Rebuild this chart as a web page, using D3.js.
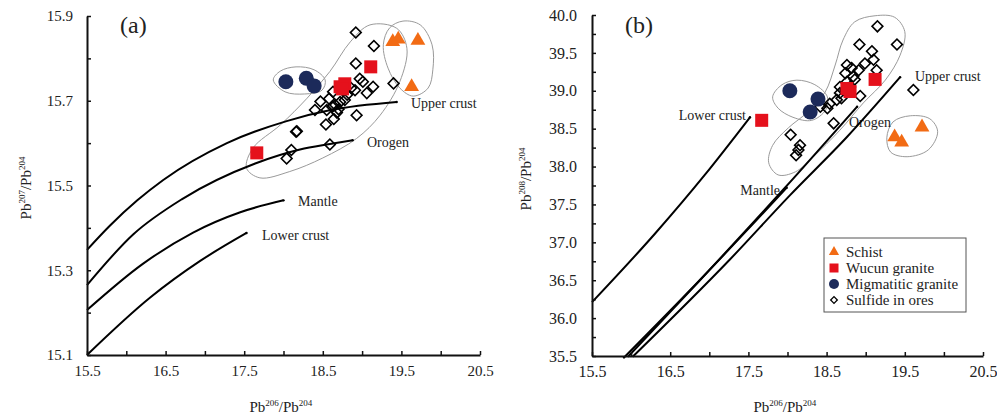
<!DOCTYPE html>
<html>
<head>
<meta charset="utf-8">
<script src="https://cdn.jsdelivr.net/npm/d3@7"></script>
<style>
  body { margin: 0; background: #fff; }
</style>
</head>
<body>
<div id="chart"></div>
<script>
// figure size
const width = 997
const height = 418

// ---------- data : panel (a) 206Pb/204Pb vs 207Pb/204Pb ----------
const sulfideA = [
  [18.92,15.861],[19.15,15.829],[18.92,15.788],[19.40,15.741],[19.01,15.745],
  [19.14,15.733],[19.06,15.718],[18.91,15.725],[18.63,15.721],[18.47,15.698],
  [18.40,15.678],[18.55,15.678],[18.66,15.690],[18.72,15.697],[18.78,15.702],
  [18.81,15.714],[18.93,15.666],[18.54,15.644],[18.64,15.657],[18.16,15.627],
  [18.17,15.628],[18.59,15.597],[18.10,15.584],[18.04,15.564],[18.70,15.680],
  [18.58,15.705],[18.86,15.730],[18.68,15.672],[18.97,15.752],[18.62,15.686]
]
const wucunA = [[17.66,15.577],[19.11,15.780],[18.72,15.733],[18.78,15.740],[18.75,15.728]]
const migmaA = [[18.03,15.745],[18.29,15.753],[18.39,15.735]]
const schistA = [[19.39,15.839],[19.46,15.845],[19.71,15.842],[19.63,15.733]]

// growth curves (a)
const upperCrustA = [[15.5,15.348],[15.79,15.405],[16.14,15.465],[16.47,15.513],[17.28,15.600],[18.04,15.652],[18.6,15.678],[19.44,15.697]]
const orogenA = [[15.5,15.265],[16.09,15.385],[16.71,15.468],[17.64,15.552],[18.21,15.585],[18.59,15.598],[18.88,15.607]]
const mantleA = [[15.5,15.206],[16.21,15.315],[16.85,15.389],[17.45,15.437],[18.0,15.465]]
const lowerCrustA = [[15.5,15.1],[16.3,15.235],[16.94,15.322],[17.53,15.388]]

// field outlines (a)
const fieldMigmaA = [[17.87,15.749],[17.96,15.770],[18.16,15.780],[18.39,15.773],[18.53,15.749],[18.49,15.725],[18.27,15.716],[18.02,15.721]]
const fieldSulfideA = [[19.10,15.879],[19.44,15.871],[19.57,15.824],[19.48,15.745],[19.23,15.666],[18.93,15.611],[18.50,15.565],[18.08,15.533],[17.70,15.518],[17.53,15.541],[17.61,15.588],[17.96,15.643],[18.30,15.706],[18.59,15.769],[18.85,15.839]]
const fieldSchistA = [[19.27,15.832],[19.35,15.872],[19.52,15.888],[19.74,15.879],[19.89,15.832],[19.90,15.773],[19.84,15.730],[19.65,15.711],[19.48,15.730],[19.33,15.777]]

// ---------- data : panel (b) 206Pb/204Pb vs 208Pb/204Pb ----------
const sulfideB = [
  [19.15,39.85],[19.40,39.61],[18.92,39.61],[19.08,39.52],[19.10,39.41],
  [19.14,39.27],[18.76,39.34],[18.99,39.36],[18.91,39.27],[18.74,39.23],
  [18.84,39.19],[18.76,39.12],[18.80,39.05],[18.74,39.01],[18.67,38.97],
  [19.61,39.01],[18.93,38.93],[18.63,38.88],[18.54,38.83],[18.51,38.77],
  [18.42,38.79],[18.59,38.57],[18.04,38.42],[18.16,38.28],[18.14,38.22],
  [18.11,38.15],[18.67,39.05],[18.69,38.90],[18.86,39.15],[18.82,39.30]
]
const wucunB = [[17.67,38.61],[19.12,39.15],[18.80,38.99],[18.76,39.03]]
const migmaB = [[18.03,39.00],[18.39,38.89],[18.29,38.72]]
const schistB = [[19.37,38.39],[19.46,38.32],[19.72,38.52]]

// growth curves (b)
const lowerCrustB = [[15.5,36.21],[16.31,37.12],[16.95,37.90],[17.52,38.65]]
const mantleB = [[15.90,35.47],[16.84,36.46],[17.61,37.30],[17.99,37.72]]
const orogenB = [[15.96,35.49],[16.88,36.50],[17.95,37.70],[18.89,38.79]]
const upperCrustB = [[16.02,35.49],[17.26,36.77],[18.03,37.62],[18.76,38.39],[19.44,39.18]]

// field outlines (b)
const fieldMigmaB = [[17.81,38.92],[17.93,39.08],[18.12,39.14],[18.35,39.08],[18.51,38.92],[18.49,38.75],[18.31,38.61],[18.07,38.65],[17.88,38.77]]
const fieldSulfideB = [[18.86,39.91],[19.12,39.99],[19.37,39.97],[19.50,39.78],[19.44,39.47],[19.25,39.14],[18.97,38.84],[18.67,38.48],[18.33,38.13],[18.10,37.93],[17.88,37.89],[17.76,38.05],[17.81,38.28],[18.01,38.51],[18.26,38.72],[18.48,38.98],[18.61,39.34],[18.71,39.67]]
const fieldSchistB = [[19.27,38.38],[19.35,38.59],[19.57,38.67],[19.82,38.63],[19.92,38.46],[19.80,38.22],[19.53,38.13],[19.32,38.19]]

// ticks
const xTicks = [15.5,16,16.5,17,17.5,18,18.5,19,19.5,20,20.5]
const xLabels = [15.5,16.5,17.5,18.5,19.5,20.5]
const yTicksA = [15.1,15.2,15.3,15.4,15.5,15.6,15.7,15.8,15.9]
const yLabelsA = [15.1,15.3,15.5,15.7,15.9]
const yTicksB = [35.5,35.75,36,36.25,36.5,36.75,37,37.25,37.5,37.75,38,38.25,38.5,38.75,39,39.25,39.5,39.75,40]
const yLabelsB = [35.5,36,36.5,37,37.5,38,38.5,39,39.5,40]

const legendItems = ["Schist","Wucun granite","Migmatitic granite","Sulfide in ores"]

// colours
const cSchist = "#f26b14"
const cWucun = "#e5111c"
const cMigma = "#1c2a5a"
const serif = "Liberation Serif, DejaVu Serif, serif"

const svg = d3.select("#chart")
  .append("svg")
    .attr("width", width)
    .attr("height", height)
    .attr("font-family", serif)

function panel(opt) {
  const x = d3.scaleLinear().domain([15.5, 20.5]).range(opt.xr)
  const y = d3.scaleLinear().domain(opt.yd).range(opt.yr)
  const g = svg.append("g")

  const line = d3.line().x(d => x(d[0])).y(d => y(d[1])).curve(d3.curveMonotoneX)
  const closed = d3.line().x(d => x(d[0])).y(d => y(d[1])).curve(d3.curveCatmullRomClosed)

  // field outlines
  opt.fields.forEach(f => {
    g.append("path").attr("d", closed(f))
      .attr("fill", "none").attr("stroke", "#9a9a9a").attr("stroke-width", 1)
  })

  // growth curves
  opt.curves.forEach(c => {
    g.append("path").attr("d", line(c.pts))
      .attr("fill", "none").attr("stroke", "#000").attr("stroke-width", 2)
    g.append("circle").attr("cx", x(c.pts[c.pts.length-1][0])).attr("cy", y(c.pts[c.pts.length-1][1]))
      .attr("r", 1.2).attr("fill", "#000")
    g.append("text").attr("x", c.lx).attr("y", c.ly)
      .attr("text-anchor", c.anchor || "start")
      .attr("font-size", 14).attr("fill", "#222").text(c.name)
  })

  // axes
  const xAxis = d3.axisBottom(x).tickValues(xTicks)
    .tickSizeInner(-4).tickSizeOuter(0).tickPadding(10)
    .tickFormat(d => xLabels.includes(d) ? d3.format(".1f")(d) : "")
  const yAxis = d3.axisLeft(y).tickValues(opt.yTicks)
    .tickSizeInner(-4).tickSizeOuter(0).tickPadding(opt.yPad)
    .tickFormat(d => opt.yLabels.includes(d) ? d3.format(".1f")(d) : "")

  const gx = g.append("g").attr("transform", `translate(0,${opt.yr[0]})`).call(xAxis)
  const gy = g.append("g").attr("transform", `translate(${opt.xr[0]},0)`).call(yAxis)
  ;[gx, gy].forEach(a => {
    a.select(".domain").attr("stroke", "#111").attr("stroke-width", 2)
    a.selectAll(".tick line").attr("stroke", "#111").attr("stroke-width", 1.5)
    a.selectAll(".tick text").attr("font-family", serif)
      .attr("font-size", opt.fs).attr("fill", "#222")
  })

  // points
  const diamond = d3.symbol().type(d3.symbolSquare).size(58)
  g.append("g").selectAll("path").data(opt.sulfide).join("path")
    .attr("d", diamond)
    .attr("transform", d => `translate(${x(d[0])},${y(d[1])}) rotate(45)`)
    .attr("fill", "none").attr("stroke", "#000").attr("stroke-width", 1.6)

  g.append("g").selectAll("circle").data(opt.migma).join("circle")
    .attr("cx", d => x(d[0])).attr("cy", d => y(d[1])).attr("r", 7.5)
    .attr("fill", cMigma)

  g.append("g").selectAll("rect").data(opt.wucun).join("rect")
    .attr("x", d => x(d[0]) - 6.5).attr("y", d => y(d[1]) - 6.5)
    .attr("width", 13).attr("height", 13).attr("fill", cWucun)

  const tri = d3.symbol().type(d3.symbolTriangle).size(95)
  g.append("g").selectAll("path").data(opt.schist).join("path")
    .attr("d", tri)
    .attr("transform", d => `translate(${x(d[0])},${y(d[1])})`)
    .attr("fill", cSchist)

  // panel label
  g.append("text").attr("x", opt.xr[0] + 33).attr("y", 33)
    .attr("font-size", 24).attr("fill", "#222").text(opt.tag)

  // axis titles
  const xt = g.append("text").attr("x", (opt.xr[0] + opt.xr[1]) / 2 - 34).attr("y", 412)
    .attr("font-size", 15).attr("fill", "#222")
  xt.append("tspan").text("Pb")
  xt.append("tspan").attr("font-size", 9).attr("dy", -6).text("206")
  xt.append("tspan").attr("dy", 6).text("/Pb")
  xt.append("tspan").attr("font-size", 9).attr("dy", -6).text("204")

  const yt = g.append("text")
    .attr("transform", `translate(${opt.ytx},${opt.yty}) rotate(-90)`)
    .attr("font-size", 15).attr("fill", "#222").attr("text-anchor", "middle")
  yt.append("tspan").text("Pb")
  yt.append("tspan").attr("font-size", 9).attr("dy", -6).text(opt.yIso)
  yt.append("tspan").attr("dy", 6).text("/Pb")
  yt.append("tspan").attr("font-size", 9).attr("dy", -6).text("204")

  return g
}

panel({
  xr: [87, 480], yd: [15.1, 15.9], yr: [355, 16],
  yTicks: yTicksA, yLabels: yLabelsA, yPad: 14, fs: 15,
  sulfide: sulfideA, wucun: wucunA, migma: migmaA, schist: schistA,
  fields: [fieldMigmaA, fieldSulfideA, fieldSchistA],
  curves: [
    {pts: upperCrustA, name: "Upper crust", lx: 411, ly: 108},
    {pts: orogenA, name: "Orogen", lx: 367, ly: 147},
    {pts: mantleA, name: "Mantle", lx: 298, ly: 206},
    {pts: lowerCrustA, name: "Lower crust", lx: 262, ly: 240}
  ],
  tag: "(a)", yIso: "207", ytx: 31, yty: 188
})

const gb = panel({
  xr: [592, 983], yd: [35.5, 40], yr: [356, 15],
  yTicks: yTicksB, yLabels: yLabelsB, yPad: 15, fs: 16,
  sulfide: sulfideB, wucun: wucunB, migma: migmaB, schist: schistB,
  fields: [fieldMigmaB, fieldSulfideB, fieldSchistB],
  curves: [
    {pts: lowerCrustB, name: "Lower crust", lx: 746, ly: 120, anchor: "end"},
    {pts: mantleB, name: "Mantle", lx: 780, ly: 195, anchor: "end"},
    {pts: orogenB, name: "Orogen", lx: 849, ly: 127},
    {pts: upperCrustB, name: "Upper crust", lx: 915, ly: 81}
  ],
  tag: "(b)", yIso: "208", ytx: 531, yty: 179
})

// legend
const lg = gb.append("g").attr("transform", "translate(824,238)")
lg.append("rect").attr("width", 142).attr("height", 74)
  .attr("fill", "#fff").attr("stroke", "#555").attr("stroke-width", 1)
legendItems.forEach((name, i) => {
  const cy = 14 + i * 16
  const row = lg.append("g").attr("transform", `translate(10,${cy})`)
  if (i === 0) row.append("path").attr("d", d3.symbol().type(d3.symbolTriangle).size(45)).attr("fill", cSchist)
  if (i === 1) row.append("rect").attr("x", -4.5).attr("y", -4.5).attr("width", 9).attr("height", 9).attr("fill", cWucun)
  if (i === 2) row.append("circle").attr("r", 5).attr("fill", cMigma)
  if (i === 3) row.append("path").attr("d", d3.symbol().type(d3.symbolSquare).size(22))
    .attr("transform", "rotate(45)").attr("fill", "none").attr("stroke", "#000").attr("stroke-width", 1.3)
  row.append("text").attr("x", 12).attr("y", 5)
    .attr("font-size", 15).attr("fill", "#222").text(name)
})
</script>
</body>
</html>
